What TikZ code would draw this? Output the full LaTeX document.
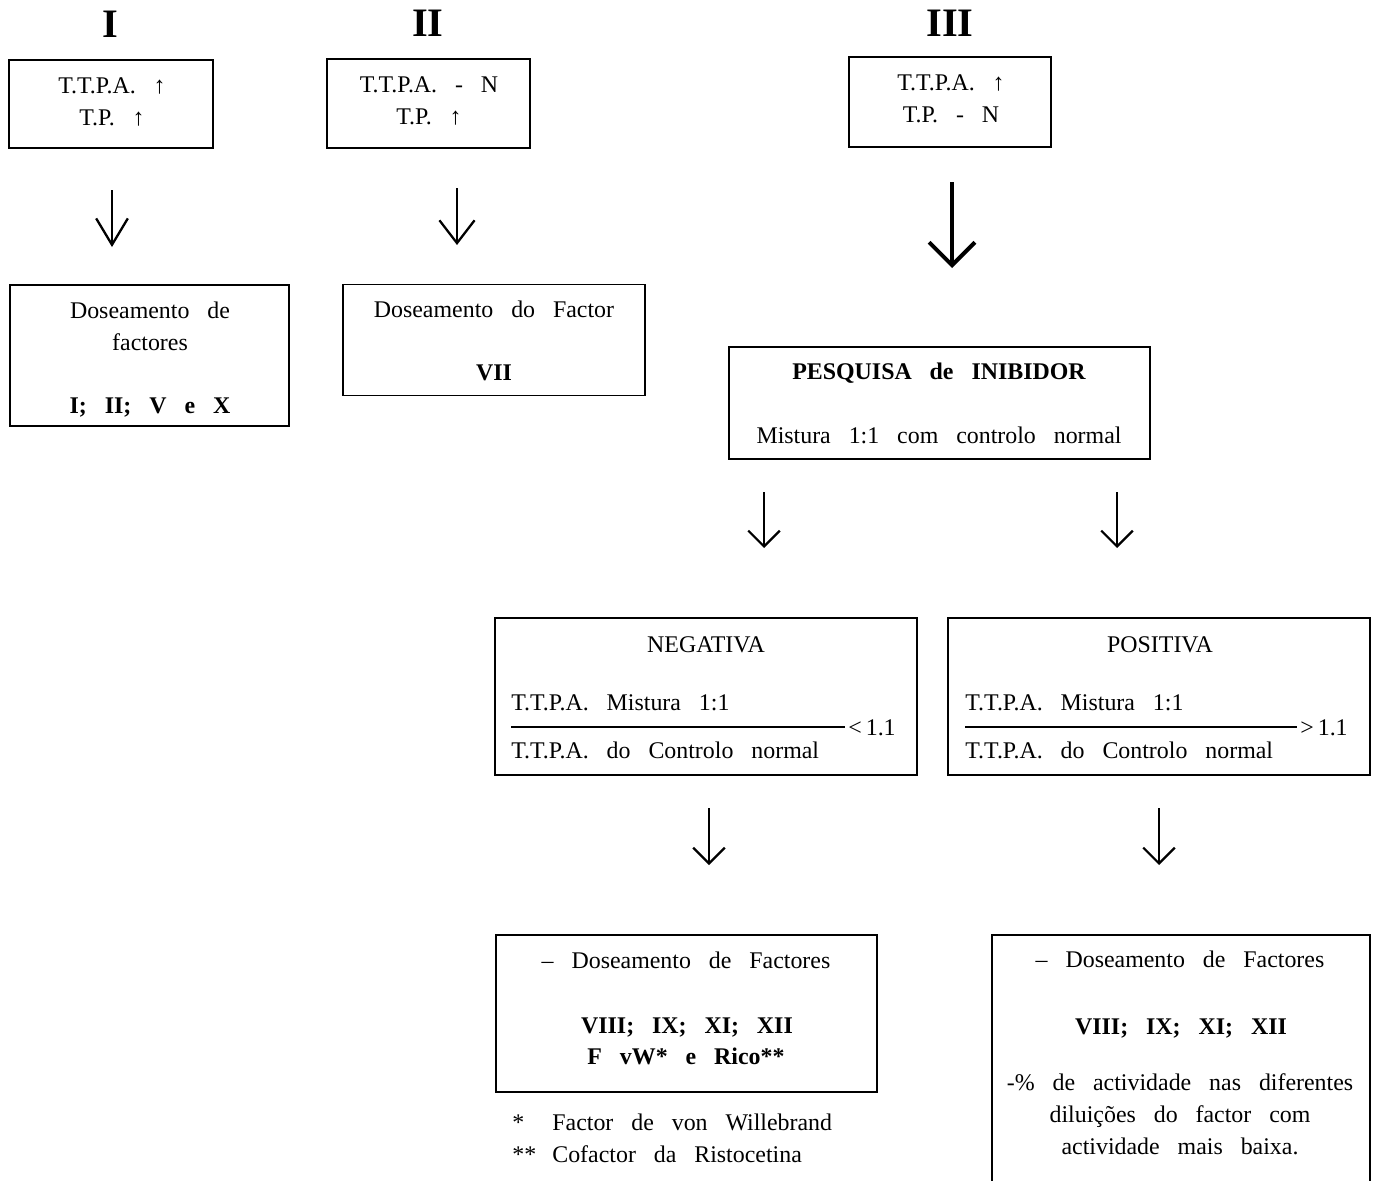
\documentclass[tikz,border=0pt]{standalone}
\usepackage{fontspec}
\setmainfont[WordSpace=3.0]{Liberation Serif}
\usetikzlibrary{arrows.meta}

\begin{document}
\begin{tikzpicture}[x = 0.02cm, y = -0.02cm,
                    box/.style = {draw, line width = 0.8pt, inner sep = 0pt},
                    txt/.style = {anchor = base, inner sep = 0pt, font = \fontsize{13.6}{17}\selectfont},
                    txtl/.style = {txt, anchor = base west},
                    title/.style = {anchor = base, inner sep = 0pt, font = \fontsize{23}{28}\selectfont\bfseries},
                    flow/.style = {line width = 1.3pt, -{Straight Barb[length = 9pt, width = 18pt]}}]

\useasboundingbox (0,0) rectangle (1376,1180);

% column titles
\node [title] (tI) at (110,37) {I};
\node [title] (tII) at (428,36) {II};
\node [title] (tIII) at (950,36) {III};

% column I
\node [box, minimum width = 4.08cm, minimum height = 1.76cm] (bI1) at (111,104) {};
\node [txt] (tI1) at (112,93) {T.T.P.A. ↑};
\node [txt] (tI2) at (112,125) {T.P. ↑};

\node [box, minimum width = 5.58cm, minimum height = 2.82cm] (bI2) at (149.5,355.5) {};
\node [txt] (tI3) at (150,318) {Doseamento de};
\node [txt] (tI4) at (150,350) {factores};
\node [txt] (tI5) at (150,413) {\bfseries I; II; V e X};

% column II
\node [box, minimum width = 4.06cm, minimum height = 1.78cm] (bII1) at (428.5,103.5) {};
\node [txt] (tII1) at (429,92) {T.T.P.A. - N};
\node [txt] (tII2) at (429,124) {T.P. ↑};

\node [box, minimum width = 6.04cm, minimum height = 2.22cm] (bII2) at (494,340) {};
\node [txt] (tII3) at (494,317) {Doseamento do Factor};
\node [txt] (tII4) at (494,380) {\bfseries VII};

% column III
\node [box, minimum width = 4.04cm, minimum height = 1.80cm] (bIII1) at (950,102) {};
\node [txt] (tIII1) at (951,90) {T.T.P.A. ↑};
\node [txt] (tIII2) at (951,122) {T.P. - N};

\node [box, minimum width = 8.42cm, minimum height = 2.24cm] (inib) at (939.5,403) {};
\node [txt] (inib1) at (939,379) {\bfseries PESQUISA de INIBIDOR};
\node [txt] (inib2) at (939,443) {Mistura 1:1 com controlo normal};

% negativa / positiva
\node [box, minimum width = 8.44cm, minimum height = 3.14cm] (neg) at (706,696.5) {};
\node [txt] (neg1) at (706,652) {NEGATIVA};
\node [txtl] (neg2) at (511,710) {T.T.P.A. Mistura 1:1};
\node [txtl] (neg3) at (511,758) {T.T.P.A. do Controlo normal};
\node [txtl] (neg4) at (848,735) {<\,1.1};

\node [box, minimum width = 8.44cm, minimum height = 3.14cm] (pos) at (1159,696.5) {};
\node [txt] (pos1) at (1160,652) {POSITIVA};
\node [txtl] (pos2) at (965,710) {T.T.P.A. Mistura 1:1};
\node [txtl] (pos3) at (965,758) {T.T.P.A. do Controlo normal};
\node [txtl] (pos4) at (1300,735) {>\,1.1};

\coordinate (fnA) at (511,727);
\coordinate (fnB) at (845,727);
\coordinate (fpA) at (965,727);
\coordinate (fpB) at (1297,727);
\draw [line width = 0.7pt] (fnA) -- (fnB);
\draw [line width = 0.7pt] (fpA) -- (fpB);

% factores
\node [box, minimum width = 7.62cm, minimum height = 3.14cm] (negf) at (686.5,1013.5) {};
\node [txt] (negf1) at (686,968) {– Doseamento de Factores};
\node [txt] (negf2) at (687,1033) {\bfseries VIII; IX; XI; XII};
\node [txt] (negf3) at (686,1064) {\bfseries F vW* e Rico**};

\node [txtl] (nota1) at (512,1130) {*};
\node [txtl] (nota2) at (552,1130) {Factor de von Willebrand};
\node [txtl] (nota3) at (512,1162) {**};
\node [txtl] (nota4) at (552,1162) {Cofactor da Ristocetina};

\node [box, minimum width = 7.56cm, minimum height = 5.4cm] (posf) at (1181,1070) {};
\node [txt] (posf1) at (1180,967) {– Doseamento de Factores};
\node [txt] (posf2) at (1181,1034) {\bfseries VIII; IX; XI; XII};
\node [txt] (posf3) at (1180,1090) {-\% de actividade nas diferentes};
\node [txt] (posf4) at (1180,1122) {diluições do factor com};
\node [txt] (posf5) at (1180,1154) {actividade mais baixa.};

% arrows
\coordinate (aI1) at (112,190);
\coordinate (aI2) at (112,247);
\coordinate (aII1) at (457,188);
\coordinate (aII2) at (457,245);
\coordinate (aIII1) at (952,182);
\coordinate (aIII2) at (952,268);
\coordinate (aN1) at (764,492);
\coordinate (aN2) at (764,548);
\coordinate (aP1) at (1117,492);
\coordinate (aP2) at (1117,548);
\coordinate (aNf1) at (709,808);
\coordinate (aNf2) at (709,865);
\coordinate (aPf1) at (1159,808);
\coordinate (aPf2) at (1159,865);

\draw [flow, -{Straight Barb[length = 15pt, width = 18pt]}] (aI1) -- (aI2);
\draw [flow, -{Straight Barb[length = 13pt, width = 20pt]}] (aII1) -- (aII2);
\draw [flow, line width = 2.3pt, -{Straight Barb[length = 13pt, width = 26pt]}] (aIII1) -- (aIII2);
\draw [flow] (aN1) -- (aN2);
\draw [flow] (aP1) -- (aP2);
\draw [flow] (aNf1) -- (aNf2);
\draw [flow] (aPf1) -- (aPf2);

\end{tikzpicture}
\end{document}
